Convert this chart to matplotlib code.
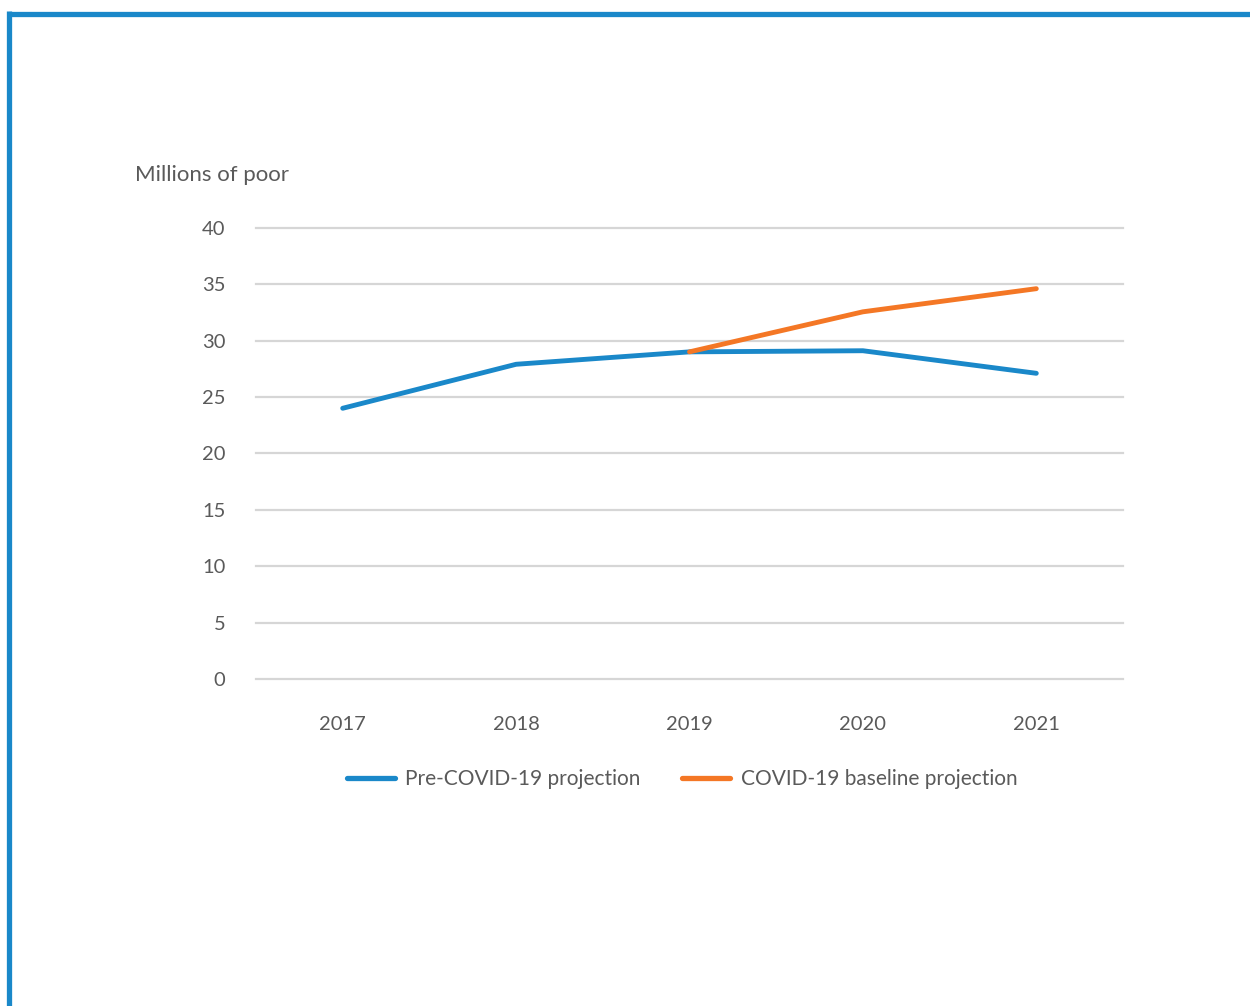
import matplotlib.pyplot as plt
from matplotlib.lines import Line2D

# ---------- data ----------
years = ["2017", "2018", "2019", "2020", "2021"]
pre_covid = [24.0, 27.9, 29.0, 29.1, 27.1]
covid_years = ["2019", "2020", "2021"]
covid_baseline = [29.0, 32.55, 34.6]

blue = "#1a88c9"
orange = "#f47725"
grey_text = "#5a5a5a"

plt.rcParams["font.family"] = ["Lato", "DejaVu Sans"]

fig = plt.figure(figsize=(12.5, 10.06), dpi=100)
ax = fig.add_axes([0.2048, 0.325, 0.6936, 0.4486])

x_pre = [years.index(y) for y in years]
x_cov = [years.index(y) for y in covid_years]

ax.plot(x_pre, pre_covid, color=blue, lw=3.5, solid_capstyle="round", zorder=3,
        label="Pre-COVID-19 projection")
ax.plot(x_cov, covid_baseline, color=orange, lw=3.5, solid_capstyle="round", zorder=4,
        label="COVID-19 baseline projection")

ax.set_xlim(-0.5, len(years) - 0.5)
ax.set_ylim(0, 40)
ax.set_yticks(range(0, 41, 5))
ax.set_xticks(range(len(years)))
ax.set_xticklabels(years)
ax.grid(axis="y", color="#d6d6d6", lw=1.6, zorder=0)
for gl in ax.get_ygridlines():
    gl.set_clip_on(False)
ax.set_axisbelow(True)
for s in ax.spines.values():
    s.set_visible(False)
ax.tick_params(axis="y", length=0, pad=22, labelsize=14.5, labelcolor=grey_text)
ax.tick_params(axis="x", length=0, pad=26.5, labelsize=14.5, labelcolor=grey_text)
for lab in ax.get_yticklabels():
    lab.set_va("center_baseline")

fig.text(135 / 1250, 1 - 175 / 1006, "Millions of poor", fontsize=16,
         color=grey_text, ha="left", va="center")

handles = [Line2D([0], [0], color=blue, lw=3.8, solid_capstyle="round"),
           Line2D([0], [0], color=orange, lw=3.8, solid_capstyle="round")]
fig.legend(handles, ["Pre-COVID-19 projection", "COVID-19 baseline projection"],
           loc="center", bbox_to_anchor=(682 / 1250, 1 - 779 / 1006), ncol=2,
           frameon=False, fontsize=15, labelcolor=grey_text, handlelength=2.3,
           columnspacing=2.0, handletextpad=0.5)

# frame lines top and left
fig.add_artist(Line2D([8.5 / 1250, 1], [1 - 13.5 / 1006, 1 - 13.5 / 1006],
                      color=blue, lw=3.8, solid_capstyle="butt"))
fig.add_artist(Line2D([8.5 / 1250, 8.5 / 1250], [0, 1 - 11 / 1006],
                      color=blue, lw=3.8, solid_capstyle="butt"))

fig.savefig("out.png", dpi=100)
